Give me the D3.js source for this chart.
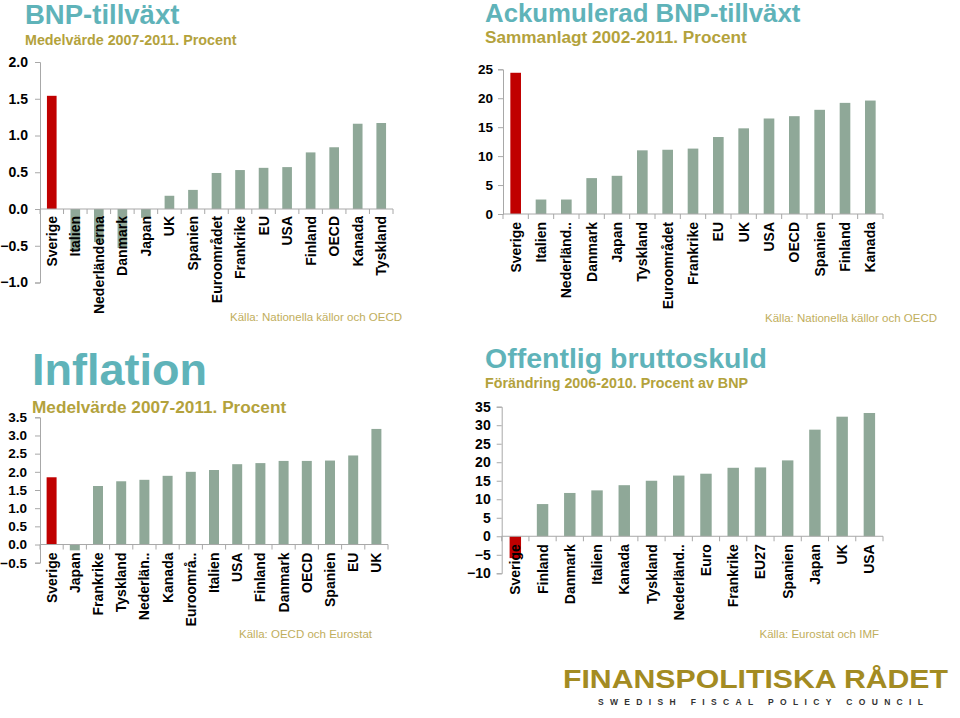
<!DOCTYPE html>
<html>
<head>
<meta charset="utf-8">
<script src="https://cdn.jsdelivr.net/npm/d3@7"></script>
<style>
  html, body { margin: 0; padding: 0; background: #fff; }
  svg { display: block; font-family: "Liberation Sans", Arial, sans-serif; }
</style>
</head>
<body>
<svg id="chart" width="960" height="718"></svg>
<script>
// ---------- DATA ----------
const gdpCats = ["Sverige","Italien","Nederländerna","Danmark","Japan","UK","Spanien","Euroområdet","Frankrike","EU","USA","Finland","OECD","Kanada","Tyskland"];
const gdpVals = [1.54,-0.56,-0.45,-0.53,-0.12,0.18,0.26,0.49,0.53,0.56,0.57,0.77,0.84,1.16,1.17];
const gdpTicks = [-1.0,-0.5,0.0,0.5,1.0,1.5,2.0];

const accCats = ["Sverige","Italien","Nederländ..","Danmark","Japan","Tyskland","Euroområdet","Frankrike","EU","UK","USA","OECD","Spanien","Finland","Kanada"];
const accVals = [24.4,2.5,2.5,6.2,6.6,11.0,11.1,11.3,13.3,14.8,16.5,16.9,18.0,19.2,19.6];
const accTicks = [0,5,10,15,20,25];

const infCats = ["Sverige","Japan","Frankrike","Tyskland","Nederlän..","Kanada","Euroområ..","Italien","USA","Finland","Danmark","OECD","Spanien","EU","UK"];
const infVals = [1.85,-0.16,1.61,1.74,1.78,1.89,2.00,2.05,2.21,2.24,2.30,2.30,2.31,2.45,3.18];
const infTicks = [-0.5,0.0,0.5,1.0,1.5,2.0,2.5,3.0,3.5];

const debtCats = ["Sverige","Finland","Danmark","Italien","Kanada","Tyskland","Nederländ..","Euro","Frankrike","EU27","Spanien","Japan","UK","USA"];
const debtVals = [-5.9,8.7,11.7,12.4,13.8,15.0,16.4,16.9,18.5,18.6,20.5,28.8,32.3,33.3];
const debtTicks = [-10,-5,0,5,10,15,20,25,30,35];

// ---------- STYLE ----------
const TEAL = "#5fb3b9", OLIVE = "#b3a23c", SRC = "#bfae5c", BAR = "#8fa898", RED = "#c00000", AXIS = "#a8a8a8";

const svg = d3.select("#chart");

function panel(cfg) {
  const g = svg.append("g");
  const x = d3.scaleBand().domain(cfg.cats).range([cfg.x0, cfg.x1]).paddingInner(cfg.pad).paddingOuter(cfg.pad / 2);
  const y = d3.scaleLinear().domain(cfg.domain).range([cfg.yBottom, cfg.yTop]);
  const data = cfg.cats.map((c, i) => ({ c, v: cfg.vals[i], i }));

  // bars
  g.selectAll("rect.bar").data(data).join("rect")
    .attr("class", "bar")
    .attr("x", d => x(d.c))
    .attr("width", x.bandwidth())
    .attr("y", d => y(Math.max(0, d.v)))
    .attr("height", d => Math.abs(y(d.v) - y(0)))
    .attr("fill", d => d.i === 0 ? RED : BAR);

  // y axis
  const yAxis = d3.axisLeft(y).tickValues(cfg.ticks).tickFormat(cfg.fmt).tickSize(5).tickPadding(cfg.yPad);
  const ya = g.append("g").attr("transform", `translate(${cfg.x0},0)`).call(yAxis);
  ya.select(".domain").attr("stroke", AXIS);
  ya.selectAll(".tick line").attr("stroke", AXIS);
  ya.selectAll(".tick text").attr("fill", "#000").attr("font-weight", "bold")
    .attr("font-size", cfg.yFont).attr("font-family", "Liberation Sans, Arial, sans-serif");

  // x axis line at zero with ticks at band boundaries
  const y0 = y(0);
  g.append("line").attr("x1", cfg.x0).attr("x2", cfg.x1).attr("y1", y0).attr("y2", y0).attr("stroke", AXIS);
  const step = x.step();
  const bounds = d3.range(cfg.cats.length + 1).map(k => cfg.x0 + k * step);
  g.selectAll("line.xt").data(bounds).join("line").attr("class", "xt")
    .attr("x1", d => d).attr("x2", d => d).attr("y1", y0).attr("y2", y0 + 5).attr("stroke", AXIS);

  // category labels (drawn above bars)
  g.selectAll("text.cat").data(data).join("text").attr("class", "cat")
    .attr("transform", d => `translate(${x(d.c) + x.bandwidth() / 2},${y0 + cfg.labGap}) rotate(-90)`)
    .attr("dy", "0.36em")
    .attr("text-anchor", "end")
    .attr("font-weight", "bold")
    .attr("font-size", 14)
    .attr("fill", "#000")
    .text(d => d.c);

  // titles
  g.append("text").attr("x", cfg.tx).attr("y", cfg.ty).attr("fill", TEAL).attr("font-weight", "bold")
    .attr("font-size", cfg.tSize).text(cfg.title);
  g.append("text").attr("x", cfg.tx).attr("y", cfg.sy).attr("fill", OLIVE).attr("font-weight", "bold")
    .attr("font-size", cfg.sSize).text(cfg.sub);
  g.append("text").attr("x", cfg.srcX).attr("y", cfg.srcY).attr("fill", SRC).attr("text-anchor", "end")
    .attr("font-size", 11.5).text(cfg.src);
}

panel({ cats: gdpCats, vals: gdpVals, ticks: gdpTicks, fmt: d3.format(".1f"), domain: [-1, 2],
  x0: 40, x1: 393, yTop: 62, yBottom: 282.5, pad: 0.59, yPad: 7, yFont: 14, labGap: 7,
  title: "BNP-tillväxt", sub: "Medelvärde 2007-2011. Procent", tx: 25, ty: 24, sy: 45, tSize: 27.5, sSize: 14.3,
  src: "Källa: Nationella källor och OECD", srcX: 402, srcY: 321 });

panel({ cats: accCats, vals: accVals, ticks: accTicks, fmt: d3.format("d"), domain: [0, 25],
  x0: 503, x1: 883, yTop: 69.3, yBottom: 214, pad: 0.58, yPad: 5, yFont: 13.5, labGap: 8,
  title: "Ackumulerad BNP-tillväxt", sub: "Sammanlagt 2002-2011. Procent", tx: 485, ty: 22, sy: 43, tSize: 25.8, sSize: 17.2,
  src: "Källa: Nationella källor och OECD", srcX: 937, srcY: 322 });

panel({ cats: infCats, vals: infVals, ticks: infTicks, fmt: d3.format(".1f"), domain: [-0.5, 3.5],
  x0: 40, x1: 388, yTop: 417.3, yBottom: 562.7, pad: 0.57, yPad: 8, yFont: 13.5, labGap: 8,
  title: "Inflation", sub: "Medelvärde 2007-2011. Procent", tx: 32, ty: 385, sy: 413, tSize: 45, sSize: 17.2,
  src: "Källa: OECD och Eurostat", srcX: 372, srcY: 638 });

panel({ cats: debtCats, vals: debtVals, ticks: debtTicks, fmt: d3.format("d"), domain: [-10, 35],
  x0: 501.7, x1: 883, yTop: 406.7, yBottom: 573.3, pad: 0.58, yPad: 6, yFont: 14, labGap: 8,
  title: "Offentlig bruttoskuld", sub: "Förändring 2006-2010. Procent av BNP", tx: 485, ty: 368, sy: 388, tSize: 28.5, sSize: 14.3,
  src: "Källa: Eurostat och IMF", srcX: 879, srcY: 638 });

// ---------- LOGO ----------
svg.append("text").attr("x", 563).attr("y", 688).attr("fill", "#a38b22").attr("font-weight", "bold")
  .attr("font-size", 25).attr("textLength", 385).attr("lengthAdjust", "spacingAndGlyphs")
  .text("FINANSPOLITISKA RÅDET");
svg.append("text").attr("x", 598).attr("y", 705).attr("fill", "#333").attr("font-weight", "bold")
  .attr("font-size", 8.5).attr("textLength", 325).attr("lengthAdjust", "spacing")
  .text("SWEDISH FISCAL POLICY COUNCIL");
</script>
</body>
</html>
